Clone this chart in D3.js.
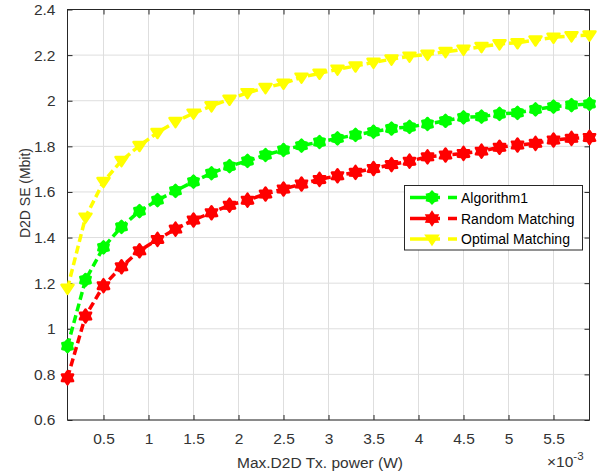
<!DOCTYPE html>
<html>
<head>
<meta charset="utf-8">
<script src="https://cdn.jsdelivr.net/npm/d3@7"></script>
<style>
  html, body { margin: 0; padding: 0; background: #fff; }
  svg { display: block; font-family: "Liberation Sans", Arial, Helvetica, sans-serif; }
</style>
</head>
<body>
<svg id="chart" width="612" height="474"></svg>
<script>
// ---- data (x in units of 1e-3 W) ----
const xValues = [0.1,0.3,0.5,0.7,0.9,1.1,1.3,1.5,1.7,1.9,2.1,2.3,2.5,2.7,2.9,3.1,3.3,3.5,3.7,3.9,4.1,4.3,4.5,4.7,4.9,5.1,5.3,5.5,5.7,5.9];
const algorithm1 = [0.924,1.214,1.357,1.447,1.516,1.564,1.605,1.645,1.682,1.713,1.736,1.762,1.784,1.803,1.819,1.835,1.850,1.864,1.878,1.885,1.898,1.912,1.927,1.930,1.942,1.947,1.962,1.974,1.981,1.986];
const randomMatching = [0.785,1.056,1.189,1.272,1.342,1.392,1.437,1.477,1.509,1.542,1.564,1.591,1.613,1.635,1.655,1.671,1.686,1.703,1.720,1.735,1.754,1.762,1.769,1.779,1.796,1.806,1.813,1.828,1.835,1.839];
const optimalMatching = [1.177,1.489,1.645,1.737,1.803,1.860,1.908,1.945,1.977,2.006,2.035,2.057,2.076,2.103,2.120,2.138,2.152,2.168,2.182,2.195,2.203,2.215,2.225,2.237,2.249,2.254,2.266,2.278,2.284,2.288];
const seriesNames = ["Algorithm1", "Random Matching", "Optimal Matching"];
const xTicks = [0.5,1,1.5,2,2.5,3,3.5,4,4.5,5,5.5];
const xTickLabels = ["0.5","1","1.5","2","2.5","3","3.5","4","4.5","5","5.5"];
const yTicks = [0.6,0.8,1,1.2,1.4,1.6,1.8,2,2.2,2.4];
const yTickLabels = ["0.6","0.8","1","1.2","1.4","1.6","1.8","2","2.2","2.4"];
const xLabel = "Max.D2D Tx. power (W)";
const yLabel = "D2D SE (Mbit)";

// ---- layout ----
const L = 67.5, R = 589.5, T = 9.5, B = 420;
const axisColor = "#262626";
const textColor = "#333333";
const svg = d3.select("#chart");

const x = d3.scaleLinear().domain([0.1, 5.9]).range([L, R]);
const y = d3.scaleLinear().domain([0.6, 2.4]).range([B, T]);

// grid
const grid = svg.append("g");
grid.selectAll(".gx").data(xTicks).join("line")
  .attr("x1", d => x(d)).attr("x2", d => x(d)).attr("y1", T).attr("y2", B)
  .attr("stroke", "#dedede").attr("stroke-width", 1);
grid.selectAll(".gy").data(yTicks).join("line")
  .attr("x1", L).attr("x2", R).attr("y1", d => y(d)).attr("y2", d => y(d))
  .attr("stroke", "#dedede").attr("stroke-width", 1);

// axes using d3 axis (ticks inward)
const fontSize = 15.5;
const xAxis = d3.axisBottom(x).tickValues(xTicks).tickFormat((d,i) => xTickLabels[i]).tickSizeInner(-5).tickSizeOuter(0).tickPadding(13);
svg.append("g").attr("transform", `translate(0,${B})`).call(xAxis);
const yAxis = d3.axisLeft(y).tickValues(yTicks).tickFormat((d,i) => yTickLabels[i]).tickSizeInner(-5).tickSizeOuter(0).tickPadding(12);
svg.append("g").attr("transform", `translate(${L},0)`).call(yAxis);
const xAxisTop = d3.axisTop(x).tickValues(xTicks).tickFormat("").tickSizeInner(-5).tickSizeOuter(0);
svg.append("g").attr("transform", `translate(0,${T})`).call(xAxisTop);
const yAxisRight = d3.axisRight(y).tickValues(yTicks).tickFormat("").tickSizeInner(-5).tickSizeOuter(0);
svg.append("g").attr("transform", `translate(${R},0)`).call(yAxisRight);

svg.selectAll(".domain").remove();
svg.selectAll(".tick line").attr("stroke", axisColor).attr("stroke-width", 1);
svg.selectAll(".tick text").attr("fill", textColor).attr("font-size", fontSize).attr("font-family", "Liberation Sans, Arial, sans-serif");

// box
svg.append("rect").attr("x", L).attr("y", T).attr("width", R - L).attr("height", B - T)
  .attr("fill", "none").attr("stroke", axisColor).attr("stroke-width", 1);

// markers
function hexagram(r, k) {
  const pts = [];
  for (let i = 0; i < 12; i++) {
    const a = Math.PI / 6 * i - Math.PI / 2;
    const rr = (i % 2 === 0) ? r : r * k;
    pts.push([rr * Math.cos(a), rr * Math.sin(a)]);
  }
  return "M" + pts.map(p => p.join(",")).join("L") + "Z";
}
function downTriangle(r) {
  return `M${-r},${-r*0.6}L${r},${-r*0.6}L0,${r*0.9}Z`;
}
const series = [
  { name: seriesNames[0], values: algorithm1, color: "#00ff00", marker: hexagram(6, 0.72) },
  { name: seriesNames[1], values: randomMatching, color: "#ff0000", marker: hexagram(6.5, 0.62) },
  { name: seriesNames[2], values: optimalMatching, color: "#ffff00", marker: downTriangle(6) }
];

const line = d3.line().x((d, i) => x(xValues[i])).y(d => y(d));

series.forEach(s => {
  const g = svg.append("g");
  g.append("path").datum(s.values).attr("d", line)
    .attr("fill", "none").attr("stroke", s.color).attr("stroke-width", 3.5)
    .attr("stroke-dasharray", "8,4");
  g.selectAll("path.m").data(s.values).join("path").attr("class", "m")
    .attr("transform", (d, i) => `translate(${x(xValues[i])},${y(d)})`)
    .attr("d", s.marker)
    .attr("fill", s.color).attr("stroke", s.color).attr("stroke-width", 2.5).attr("stroke-linejoin", "round");
});

// labels
svg.append("text").attr("x", 320).attr("y", 468).attr("text-anchor", "middle")
  .attr("font-size", 15.5).attr("fill", textColor).text(xLabel);
svg.append("text").attr("transform", "translate(30,193) rotate(-90)").attr("text-anchor", "middle")
  .attr("font-size", 15.5).attr("textLength", 90).attr("lengthAdjust", "spacingAndGlyphs")
  .attr("fill", textColor).text(yLabel);

// exponent
const ex = svg.append("text").attr("x", 547).attr("y", 467).attr("font-size", 15.5).attr("fill", textColor);
ex.append("tspan").text("\u00d710");
ex.append("tspan").attr("font-size", 11.5).attr("dy", -7).text("-3");

// legend
const lg = svg.append("g");
lg.append("rect").attr("x", 404.5).attr("y", 185.5).attr("width", 178).attr("height", 64.5)
  .attr("fill", "#fff").attr("stroke", axisColor).attr("stroke-width", 1);
const legendY = [197.5, 218.5, 239];
series.forEach((s, i) => {
  const ly = legendY[i];
  lg.append("line").attr("x1", 410).attr("x2", 457).attr("y1", ly).attr("y2", ly)
    .attr("stroke", s.color).attr("stroke-width", 3.5).attr("stroke-dasharray", "30,8,10");
  lg.append("path").attr("transform", `translate(432,${ly})`).attr("d", s.marker)
    .attr("fill", s.color).attr("stroke", s.color).attr("stroke-width", 2);
  lg.append("text").attr("x", 461).attr("y", ly + 5).attr("font-size", 14).attr("fill", "#000").text(s.name);
});
</script>
</body>
</html>
